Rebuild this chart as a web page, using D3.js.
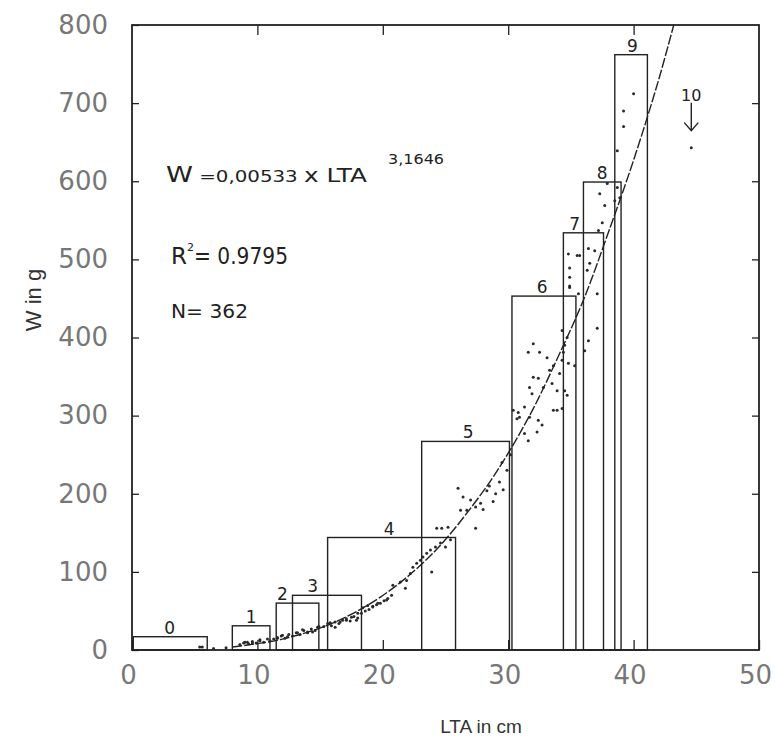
<!DOCTYPE html>
<html>
<head>
<meta charset="utf-8">
<script src="https://cdn.jsdelivr.net/npm/d3@7"></script>
<style>
  body { margin: 0; background: #fff; }
  svg { display: block; }
</style>
</head>
<body>
<div id="chart"></div>
<script>
// age classes: LTA range (min..max) and max weight per class
var ageLabels = ["0", "1", "2", "3", "4", "5", "6", "7", "8", "9"];
var boxLo  = [0.1, 8.0, 11.5, 12.8, 15.6, 23.1, 30.3, 34.4, 36.0, 38.5];
var boxHi  = [6.0, 11.0, 14.9, 18.3, 25.8, 30.1, 35.4, 37.6, 39.0, 41.1];
var boxTop = [17, 31, 60, 70, 144, 267, 453, 534, 599, 762];
var labelLTA = [3.0, 9.5, 12.0, 14.4, 20.5, 26.8, 32.7, 35.3, 37.5, 39.9];

// individual fish (LTA cm, W g)
var ptLTA = [5.4, 5.6, 6.5, 7.5, 8.6, 8.9, 9.0, 9.2, 9.3, 9.6, 9.6, 9.9, 10.2, 10.2, 10.5, 10.8, 11.0,
  11.3, 11.6, 11.6, 11.9, 12.0, 12.2, 12.4, 12.5, 12.8, 13.1, 13.2, 13.4, 13.6, 13.7, 14.0, 14.0, 14.3,
  14.4, 14.6, 14.8, 14.9, 15.3, 15.6, 15.8, 15.9, 16.2, 16.2, 16.5, 16.6, 16.8, 17.1, 17.1, 17.4, 17.5,
  17.7, 17.9, 18.0, 18.0, 18.3, 18.4, 18.6, 18.8, 18.9, 19.2, 19.2, 19.5, 19.6, 19.8, 20.1, 20.3, 20.4,
  20.7, 20.8, 21.4, 21.8, 21.9, 22.2, 22.4, 22.7, 23.0, 23.2, 23.5, 23.8, 23.9, 24.2, 24.3, 24.6, 24.7,
  25.0, 25.2, 25.4, 26.0, 26.2, 26.4, 26.7, 27.0, 27.4, 27.4, 27.8, 28.0, 28.3, 28.5, 28.8, 29.0, 29.3,
  29.5, 29.6, 29.9, 30.2, 30.4, 30.7, 30.8, 30.9, 31.3, 31.3, 31.6, 31.6, 31.7, 31.7, 31.9, 32.0, 32.0,
  32.3, 32.4, 32.4, 32.5, 32.7, 32.8, 33.1, 33.3, 33.5, 33.6, 33.6, 33.9, 33.9, 34.1, 34.3, 34.3, 34.3,
  34.4, 34.5, 34.5, 34.7, 34.7, 34.8, 34.8, 34.9, 34.9, 34.9, 34.9, 35.3, 35.5, 35.6, 35.7, 36.1, 36.3,
  36.4, 36.4, 36.5, 36.9, 37.1, 37.1, 37.2, 37.3, 37.5, 37.7, 37.9, 38.5, 38.7, 38.7, 38.9, 39.2, 39.2,
  40.0, 44.6];
var ptW = [4, 4, 2, 3, 7, 9, 10, 10, 8, 9, 11, 9, 13, 12, 10, 14, 12,
  14, 15, 16, 18, 19, 15, 17, 20, 18, 22, 22, 20, 26, 25, 22, 23, 27,
  23, 25, 29, 30, 30, 34, 35, 31, 36, 29, 34, 36, 38, 38, 40, 37, 42,
  43, 38, 47, 41, 47, 54, 50, 57, 52, 55, 56, 58, 60, 60, 63, 64, 66,
  70, 83, 87, 79, 89, 98, 106, 111, 115, 119, 124, 128, 100, 132, 156, 137, 156,
  132, 157, 141, 207, 179, 196, 179, 192, 183, 156, 188, 180, 204, 210, 190, 200, 215,
  240, 205, 230, 250, 307, 296, 304, 298, 311, 277, 381, 268, 336, 298, 328, 349, 392,
  279, 348, 294, 381, 288, 336, 374, 358, 341, 364, 307, 332, 307, 354, 371, 409, 309,
  381, 390, 332, 400, 326, 367, 507, 466, 489, 477, 464, 364, 505, 456, 505, 383, 486,
  396, 514, 495, 511, 412, 456, 537, 584, 547, 569, 597, 575, 592, 639, 579, 690, 670,
  712, 643];

// fitted curve W = 0.00533 * LTA^3.1646
var fitLTA = [8, 12, 16, 20, 24, 28, 30, 32, 34, 36, 38, 40, 42, 43.2];
var fitW   = [3.8, 13.9, 34.5, 69.8, 124, 203, 252, 309, 376, 448, 535, 627, 730, 800];

var xTicks = [0, 10, 20, 30, 40, 50];
var yTicks = [0, 100, 200, 300, 400, 500, 600, 700, 800];

var W = 775, H = 742;
var svg = d3.select('#chart').append('svg')
  .attr('width', W)
  .attr('height', H);

var x = d3.scaleLinear().domain([0, 50]).range([132, 759]);
var y = d3.scaleLinear().domain([0, 800]).range([650, 25]);

var ink = '#222';
var tickFont = "'DejaVu Sans', sans-serif";

// axes (ticks point inward)
var xAxis = svg.append('g')
  .attr('transform', 'translate(0,' + y(0) + ')')
  .call(d3.axisBottom(x).tickValues(xTicks).tickSize(-10).tickPadding(16).tickFormat(d3.format('d')));
svg.append('g')
  .attr('transform', 'translate(0,' + y(800) + ')')
  .call(d3.axisTop(x).tickValues(xTicks.slice(1, -1)).tickSize(-10).tickFormat(''));
svg.append('g')
  .attr('transform', 'translate(' + x(0) + ',0)')
  .call(d3.axisLeft(y).tickValues(yTicks).tickSize(-7).tickPadding(24).tickFormat(d3.format('d')));
svg.append('g')
  .attr('transform', 'translate(' + x(50) + ',0)')
  .call(d3.axisRight(y).tickValues(yTicks.slice(1, -1)).tickSize(-7).tickFormat(''));

svg.selectAll('.domain').remove();
svg.selectAll('.tick line').attr('stroke', ink).attr('stroke-width', 1.3);
svg.selectAll('.tick text')
  .attr('fill', '#777')
  .style('font-family', tickFont)
  .style('font-size', '26px');
xAxis.selectAll('.tick text').attr('dx', -4);

// frame
svg.append('rect')
  .attr('x', x(0)).attr('y', y(800))
  .attr('width', x(50) - x(0)).attr('height', y(0) - y(800))
  .attr('fill', 'none').attr('stroke', ink).attr('stroke-width', 1.8);

// age class boxes
var boxes = svg.append('g');
ageLabels.forEach(function (lab, i) {
  boxes.append('rect')
    .attr('x', x(boxLo[i]))
    .attr('y', y(boxTop[i]))
    .attr('width', x(boxHi[i]) - x(boxLo[i]))
    .attr('height', y(0) - y(boxTop[i]))
    .attr('fill', 'none')
    .attr('stroke', ink)
    .attr('stroke-width', 1.4);
  boxes.append('text')
    .attr('x', x(labelLTA[i]))
    .attr('y', y(boxTop[i]) - 3)
    .attr('text-anchor', 'middle')
    .attr('fill', ink)
    .style('font-family', "'DejaVu Sans', sans-serif")
    .style('font-size', '17px')
    .text(lab);
});

// points
svg.append('g').selectAll('circle')
  .data(ptLTA)
  .join('circle')
    .attr('cx', function (d) { return x(d); })
    .attr('cy', function (d, i) { return y(ptW[i]); })
    .attr('r', 1.5)
    .attr('fill', '#2a2a2a');

// fitted curve
var fit = fitLTA.map(function (d, i) { return [d, fitW[i]]; });
svg.append('path')
  .datum(fit)
  .attr('fill', 'none')
  .attr('stroke', ink)
  .attr('stroke-width', 1.4)
  .attr('stroke-dasharray', '10,2')
  .attr('d', d3.line()
    .x(function (d) { return x(d[0]); })
    .y(function (d) { return y(d[1]); })
    .curve(d3.curveCatmullRom));

// age 10 marker (arrow + point)
var a10 = { lta: 44.6, w: 643 };
svg.append('text')
  .attr('x', x(a10.lta)).attr('y', y(a10.w) - 47)
  .attr('text-anchor', 'middle')
  .attr('fill', ink)
  .style('font-family', "'DejaVu Sans', sans-serif")
  .style('font-size', '16px')
  .text('10');
svg.append('path')
  .attr('d', 'M' + x(a10.lta) + ',' + (y(a10.w) - 45) + 'V' + (y(a10.w) - 17) +
    'M' + (x(a10.lta) - 7) + ',' + (y(a10.w) - 25) + 'L' + x(a10.lta) + ',' + (y(a10.w) - 17) +
    'L' + (x(a10.lta) + 7) + ',' + (y(a10.w) - 25))
  .attr('fill', 'none').attr('stroke', ink).attr('stroke-width', 1.4);

// equation text
var note = svg.append('g')
  .attr('fill', ink)
  .style('font-family', "'DejaVu Sans', sans-serif");
var eq = note.append('text').attr('x', 166).attr('y', 182)
  .attr('textLength', 201).attr('lengthAdjust', 'spacingAndGlyphs')
  .style('font-size', '22px');
eq.append('tspan').text('W');
eq.append('tspan').style('font-size', '16px').text(' =0,00533 ');
eq.append('tspan').style('font-size', '20px').text('x LTA');
note.append('text').attr('x', 388).attr('y', 164)
  .attr('textLength', 56).attr('lengthAdjust', 'spacingAndGlyphs')
  .style('font-size', '14px').text('3,1646');

// R squared, pieces placed side by side
note.append('text').attr('x', 171).attr('y', 264)
  .style('font-size', '23px').text('R');
note.append('text').attr('x', 187).attr('y', 251)
  .style('font-size', '11px').text('2');
note.append('text').attr('x', 194).attr('y', 264)
  .attr('textLength', 94).attr('lengthAdjust', 'spacingAndGlyphs')
  .style('font-size', '23px').text('= 0.9795');

note.append('text').attr('x', 171).attr('y', 318)
  .attr('textLength', 77).attr('lengthAdjust', 'spacingAndGlyphs')
  .style('font-size', '19px').text('N= 362');

// axis titles
svg.append('text')
  .attr('transform', 'translate(41,300) rotate(-90)')
  .attr('text-anchor', 'middle')
  .attr('fill', '#333')
  .style('font-family', "'Liberation Sans', sans-serif")
  .style('font-size', '22px')
  .text('W in g');
svg.append('text')
  .attr('x', 481).attr('y', 733)
  .attr('text-anchor', 'middle')
  .attr('fill', '#333')
  .style('font-family', "'Liberation Sans', sans-serif")
  .style('font-size', '19px')
  .text('LTA  in cm');
</script>
</body>
</html>
